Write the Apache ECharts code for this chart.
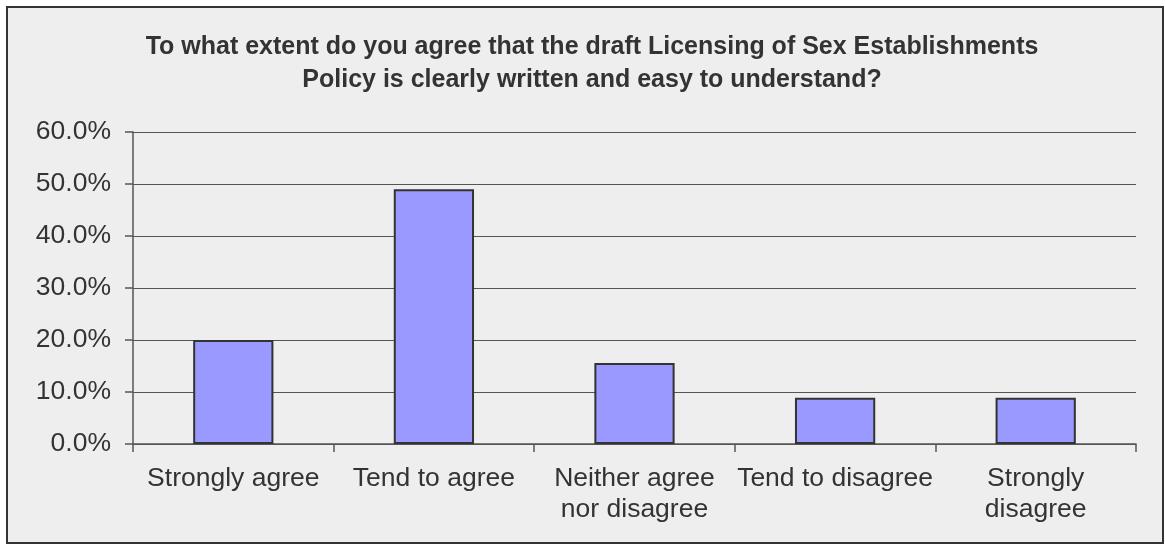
<!DOCTYPE html>
<html>
<head>
<meta charset="utf-8">
<script src="https://cdn.jsdelivr.net/npm/echarts@6/dist/echarts.min.js"></script>
<style>
html,body{margin:0;padding:0;background:#fff;}
#main{width:1165px;height:547px;}
</style>
</head>
<body>
<div id="main"></div>
<script>
const titleText = "To what extent do you agree that the draft Licensing of Sex Establishments\nPolicy is clearly written and easy to understand?";
const categories = ["Strongly agree", "Tend to agree", "Neither agree\nnor disagree", "Tend to disagree", "Strongly\ndisagree"];
const values = [20.0, 49.0, 15.6, 8.9, 8.9];
const yMin = 0, yMax = 60, yStep = 10;

const FONT = "'Liberation Sans', Arial, sans-serif";
const chart = echarts.init(document.getElementById('main'), null, {renderer: 'canvas'});
chart.setOption({
  backgroundColor: '#ffffff',
  animation: false,
  graphic: [{
    type: 'rect', z: -10, silent: true,
    shape: {x: 7, y: 7, width: 1156, height: 536},
    style: {fill: '#eeeeee', stroke: '#333333', lineWidth: 2}
  }],
  title: {
    text: titleText,
    left: 587, top: 26,
    textAlign: 'center',
    textStyle: {fontFamily: FONT, fontSize: 25, fontWeight: 'bold', color: '#333333', lineHeight: 33}
  },
  grid: {left: 133, right: 29, top: 132, bottom: 103, containLabel: false},
  xAxis: {
    type: 'category',
    data: categories,
    boundaryGap: true,
    axisLine: {show: true, lineStyle: {color: '#555555', width: 1.5}},
    axisTick: {show: true, alignWithLabel: false, length: 8, lineStyle: {color: '#555555', width: 1.5}},
    axisLabel: {fontFamily: FONT, fontSize: 26.5, color: '#333333', margin: 19, lineHeight: 31, interval: 0}
  },
  yAxis: {
    type: 'value',
    min: yMin, max: yMax, interval: yStep,
    axisLine: {show: true, lineStyle: {color: '#555555', width: 1.5}},
    axisTick: {show: true, length: 8, lineStyle: {color: '#555555', width: 1.5}},
    splitLine: {show: true, lineStyle: {color: '#555555', width: 1.2}},
    axisLabel: {fontFamily: FONT, fontSize: 26.5, color: '#333333', margin: 22,
      formatter: v => v.toFixed(1) + '%'}
  },
  series: [{
    type: 'bar',
    data: values,
    barWidth: '40%',
    itemStyle: {color: '#9999ff', borderColor: '#333333', borderWidth: 2}
  }]
});
</script>
</body>
</html>
